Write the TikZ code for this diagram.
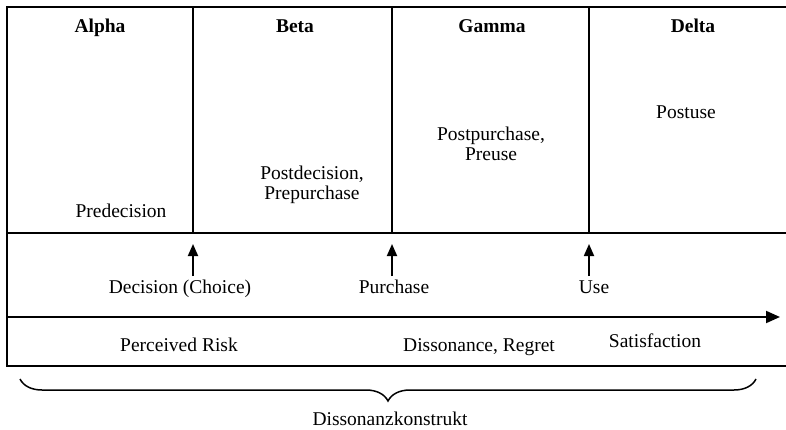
\documentclass[tikz,border=0pt]{standalone}
\usepackage{fontspec}
\setmainfont{Liberation Serif}
\usetikzlibrary{arrows.meta,decorations.pathreplacing}
\begin{document}
\begin{tikzpicture}[x=1pt,y=-1pt,
  frame/.style={line width=2pt},
  lbl/.style={anchor=base,inner sep=0pt,font=\fontsize{19.5}{23}\selectfont},
  head/.style={lbl,font=\fontsize{19.5}{23}\selectfont\bfseries},
  event/.style={line width=1.8pt,-{Triangle[length=12pt,width=10pt]}},
  timeline/.style={line width=2pt,-{Triangle[length=14pt,width=12pt]}}]
\useasboundingbox (0,0) rectangle (786,430);
\fill[white] (0,0) rectangle (786,430);

% frame and rows
\coordinate (tl) at (7,7);
\coordinate (tr) at (786,7);
\coordinate (ml) at (7,233);
\coordinate (mr) at (786,233);
\coordinate (bl) at (7,366);
\coordinate (br) at (786,366);
\draw[frame] (tr) -- (tl) -- (bl) -- (br);
\draw[frame] (ml) -- (mr);

% phase dividers
\foreach \n/\x in {d1/193, d2/392, d3/589} {
  \coordinate (\n t) at (\x,7);
  \coordinate (\n b) at (\x,233);
  \draw[frame] (\n t) -- (\n b);
}

% phase headings
\node[head] (alpha) at (100,33) {Alpha};
\node[head] (beta)  at (295,33) {Beta};
\node[head] (gamma) at (492,33) {Gamma};
\node[head] (delta) at (693,33) {Delta};

% phase descriptions
\node[lbl] (pre)   at (121,218) {Predecision};
\node[lbl] (pd1)   at (312,180) {Postdecision,};
\node[lbl] (pd2)   at (312,199.5) {Prepurchase};
\node[lbl] (pp1)   at (491,141) {Postpurchase,};
\node[lbl] (pp2)   at (491,160.5) {Preuse};
\node[lbl] (post)  at (686,119) {Postuse};

% events
\node[lbl] (dec) at (180,293) {Decision (Choice)};
\node[lbl] (pur) at (394,293) {Purchase};
\node[lbl] (use) at (594,293) {Use};
\coordinate (e1) at (193,276);
\coordinate (e2) at (392,276);
\coordinate (e3) at (589,276);
\coordinate (h1) at (193,244);
\coordinate (h2) at (392,244);
\coordinate (h3) at (589,244);
\draw[event] (e1) -- (h1);
\draw[event] (e2) -- (h2);
\draw[event] (e3) -- (h3);

% time axis
\coordinate (ts) at (7,317);
\coordinate (te) at (780,317);
\draw[timeline] (ts) -- (te);

% constructs
\node[lbl] (risk) at (179,351) {Perceived Risk};
\node[lbl] (diss) at (479,351) {Dissonance, Regret};
\node[lbl] (sat)  at (655,347) {Satisfaction};

% brace
\coordinate (bs) at (20,379);
\coordinate (be) at (756,379);
\draw[line width=1.5pt,decorate,decoration={brace,mirror,amplitude=22pt,aspect=0.5}] (bs) -- (be);
\node[lbl] (konstrukt) at (390,425) {Dissonanzkonstrukt};
\end{tikzpicture}
\end{document}
